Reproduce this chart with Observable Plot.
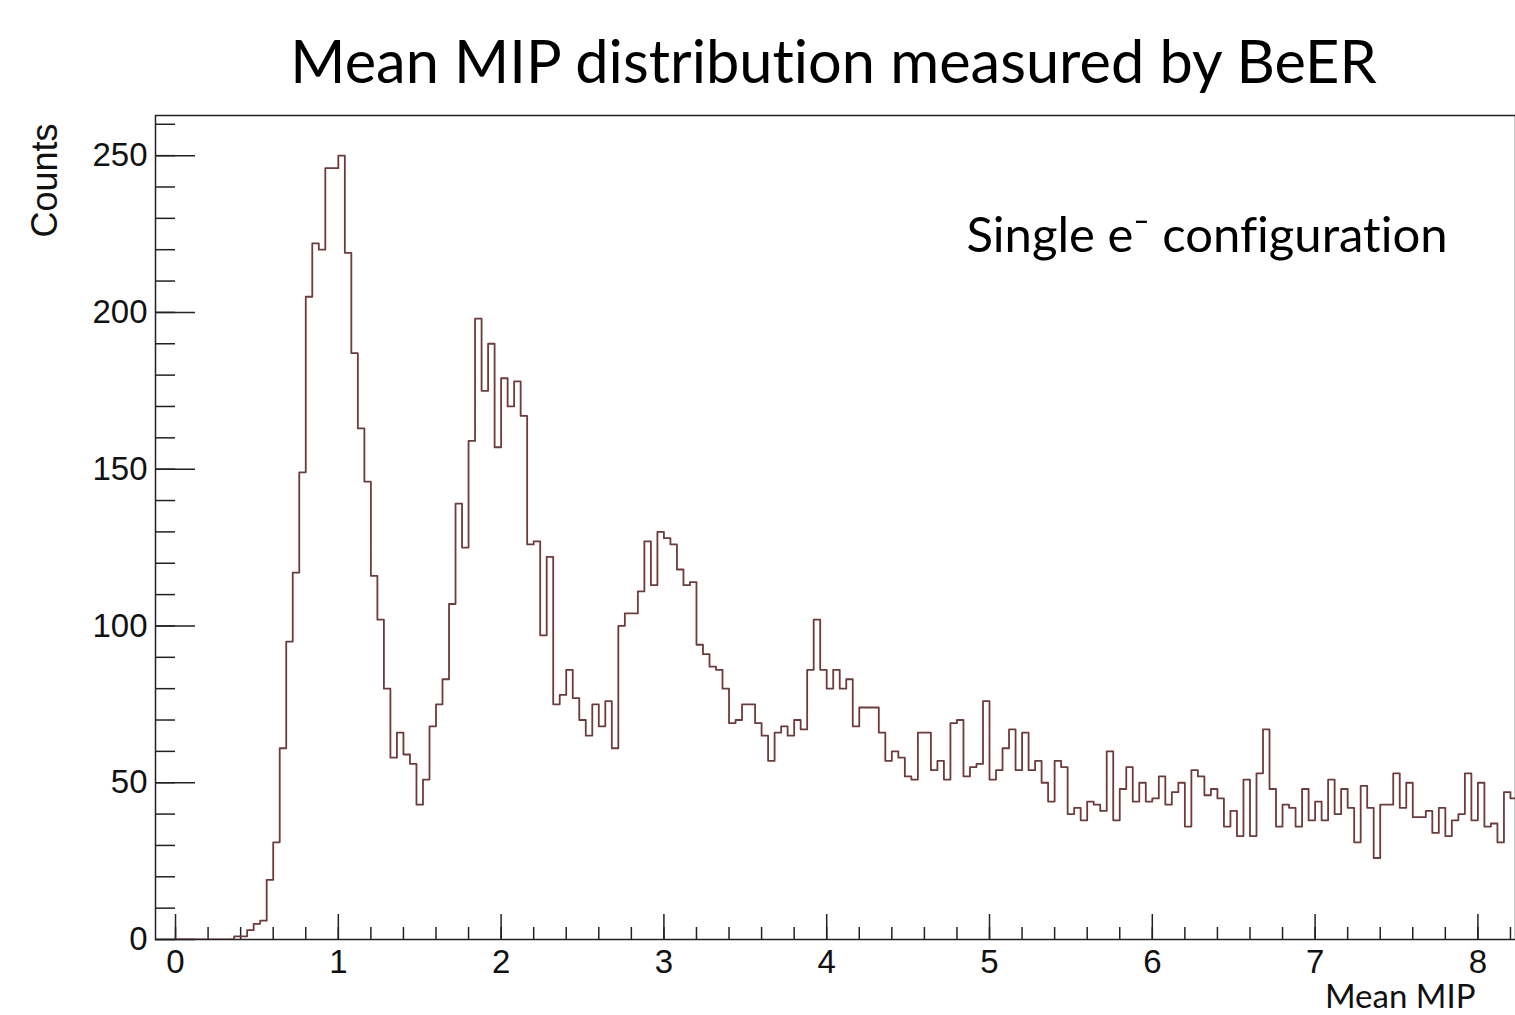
<!DOCTYPE html>
<html>
<head>
<meta charset="utf-8">
<script src="https://cdn.jsdelivr.net/npm/d3@7"></script>
<script src="https://cdn.jsdelivr.net/npm/@observablehq/plot@0.6"></script>
<style>
  html, body { margin: 0; padding: 0; background: #fff; overflow: hidden; }
  #chart { width: 1515px; height: 1015px; overflow: hidden; }
  #chart svg { max-width: none !important; font-variant-ligatures: none; }
  #chart svg text { font-variant-ligatures: none; font-feature-settings: "liga" 0, "clig" 0; }
</style>
</head>
<body>
<div id="chart"></div>
<script>
// ---- data ----
const title = "Mean MIP distribution measured by BeER";
const annotation = "Single e\u207B configuration";
const xLabel = "Mean MIP";
const yLabel = "Counts";
const binWidth = 0.04;           // bin width in Mean MIP units
const binStart = 0;              // left edge of the first bin
const counts = [
  0, 0, 0, 0, 0, 0, 0, 0, 0, 1,
  1, 3, 5, 6, 19, 31, 61, 95, 117, 149,
  205, 222, 220, 246, 246, 250, 219, 187, 163, 146,
  116, 102, 80, 58, 66, 59, 56, 43, 51, 68,
  75, 83, 107, 139, 125, 159, 198, 175, 190, 157,
  179, 170, 178, 167, 126, 127, 97, 122, 75, 78,
  86, 77, 70, 65, 75, 68, 76, 61, 100, 104,
  104, 111, 127, 113, 130, 128, 126, 118, 113, 114,
  94, 91, 87, 86, 80, 69, 70, 75, 75, 69,
  65, 57, 66, 68, 65, 70, 67, 86, 102, 86,
  80, 86, 80, 83, 68, 74, 74, 74, 66, 57,
  60, 58, 52, 51, 66, 66, 54, 57, 51, 69,
  70, 52, 55, 56, 76, 51, 54, 61, 67, 54,
  66, 54, 57, 50, 44, 57, 55, 40, 42, 38,
  44, 43, 41, 60, 38, 48, 55, 44, 50, 44,
  45, 52, 43, 47, 50, 36, 54, 52, 46, 48,
  45, 36, 41, 33, 51, 33, 53, 67, 48, 36,
  43, 42, 36, 48, 38, 44, 38, 51, 40, 48,
  42, 31, 49, 42, 26, 43, 43, 53, 42, 50,
  39, 39, 41, 34, 42, 33, 38, 40, 53, 38,
  50, 36, 37, 31, 47, 45
];
const xMajorTicks = [0, 1, 2, 3, 4, 5, 6, 7, 8];
const xMinorTicks = [0, 0.2, 0.4, 0.6, 0.8, 1, 1.2, 1.4, 1.6, 1.8, 2, 2.2, 2.4, 2.6, 2.8, 3, 3.2, 3.4, 3.6, 3.8, 4, 4.2, 4.4, 4.6, 4.8, 5, 5.2, 5.4, 5.6, 5.8, 6, 6.2, 6.4, 6.6, 6.8, 7, 7.2, 7.4, 7.6, 7.8, 8, 8.2];
const yMajorTicks = [0, 50, 100, 150, 200, 250];
const yMinorTicks = [0, 10, 20, 30, 40, 50, 60, 70, 80, 90, 100, 110, 120, 130, 140, 150, 160, 170, 180, 190, 200, 210, 220, 230, 240, 250, 260];
const xDomain = [-0.123, 8.231];
const yDomain = [0, 262.8];

// ---- step outline table built from the bins ----
const steps = counts.map((c, i) => ({x: binStart + i * binWidth, y: c}));
steps.push({x: binStart + counts.length * binWidth, y: counts[counts.length - 1]});

const axisColor = "#222";
const lineColor = "#6e3a3a";
const tickFont = "'Liberation Sans', Arial, Helvetica, sans-serif";
const textFont = "Lato, 'Open Sans', sans-serif";
const blank = () => "";
const intFmt = (d) => String(d);

const chart = Plot.plot({
  width: 1520,
  height: 1015,
  marginLeft: 155,
  marginRight: 5,
  marginTop: 115,
  marginBottom: 76,
  style: {background: "#fff", overflow: "visible"},
  x: {domain: xDomain, axis: null},
  y: {domain: yDomain, axis: null},
  marks: [
    Plot.frame({stroke: axisColor, strokeWidth: 1.5}),
    // y minor ticks (inside)
    Plot.axisY(yMinorTicks, {anchor: "left", tickSize: 20, dx: 20, tickFormat: blank, label: null, stroke: axisColor, strokeWidth: 1.5}),
    // y major ticks (inside)
    Plot.axisY(yMajorTicks, {anchor: "left", tickSize: 40, dx: 40, tickFormat: blank, label: null, stroke: axisColor, strokeWidth: 1.5}),
    // y labels
    Plot.axisY(yMajorTicks, {anchor: "left", tickSize: 0, tickPadding: 8, tickFormat: intFmt, fontSize: 33, fontFamily: tickFont, fill: "#111", label: null}),
    // x minor ticks
    Plot.axisX(xMinorTicks, {anchor: "bottom", tickSize: 12, dy: -12, tickFormat: blank, label: null, stroke: axisColor, strokeWidth: 1.5}),
    // x major ticks
    Plot.axisX(xMajorTicks, {anchor: "bottom", tickSize: 25, dy: -25, tickFormat: blank, label: null, stroke: axisColor, strokeWidth: 1.5}),
    // x labels
    Plot.axisX(xMajorTicks, {anchor: "bottom", tickSize: 0, tickPadding: 10, tickFormat: intFmt, fontSize: 33, fontFamily: tickFont, fill: "#111", label: null}),
    // histogram outline
    Plot.line(steps, {x: "x", y: "y", curve: "step-after", stroke: lineColor, strokeWidth: 1.8, clip: true}),
    // title
    Plot.text([title], {frameAnchor: "top", dy: -52, dx: -2, fontSize: 59.5, fontFamily: textFont, fill: "#000", lineAnchor: "middle"}),
    // annotation
    Plot.text([annotation], {frameAnchor: "top-left", dx: 811, dy: 121, textAnchor: "start", lineAnchor: "middle", fontSize: 49, fontFamily: textFont, fill: "#000"}),
    // y label
    Plot.text([yLabel], {frameAnchor: "top-left", dx: -110, dy: 65, rotate: -90, textAnchor: "middle", lineAnchor: "middle", fontSize: 36, fontFamily: tickFont, fill: "#111"}),
    // x label
    Plot.text([xLabel], {frameAnchor: "bottom-right", dx: -40, dy: 45, textAnchor: "end", lineAnchor: "top", fontSize: 33, fontFamily: textFont, fill: "#111"})
  ]
});
document.getElementById("chart").appendChild(chart);
</script>
</body>
</html>
